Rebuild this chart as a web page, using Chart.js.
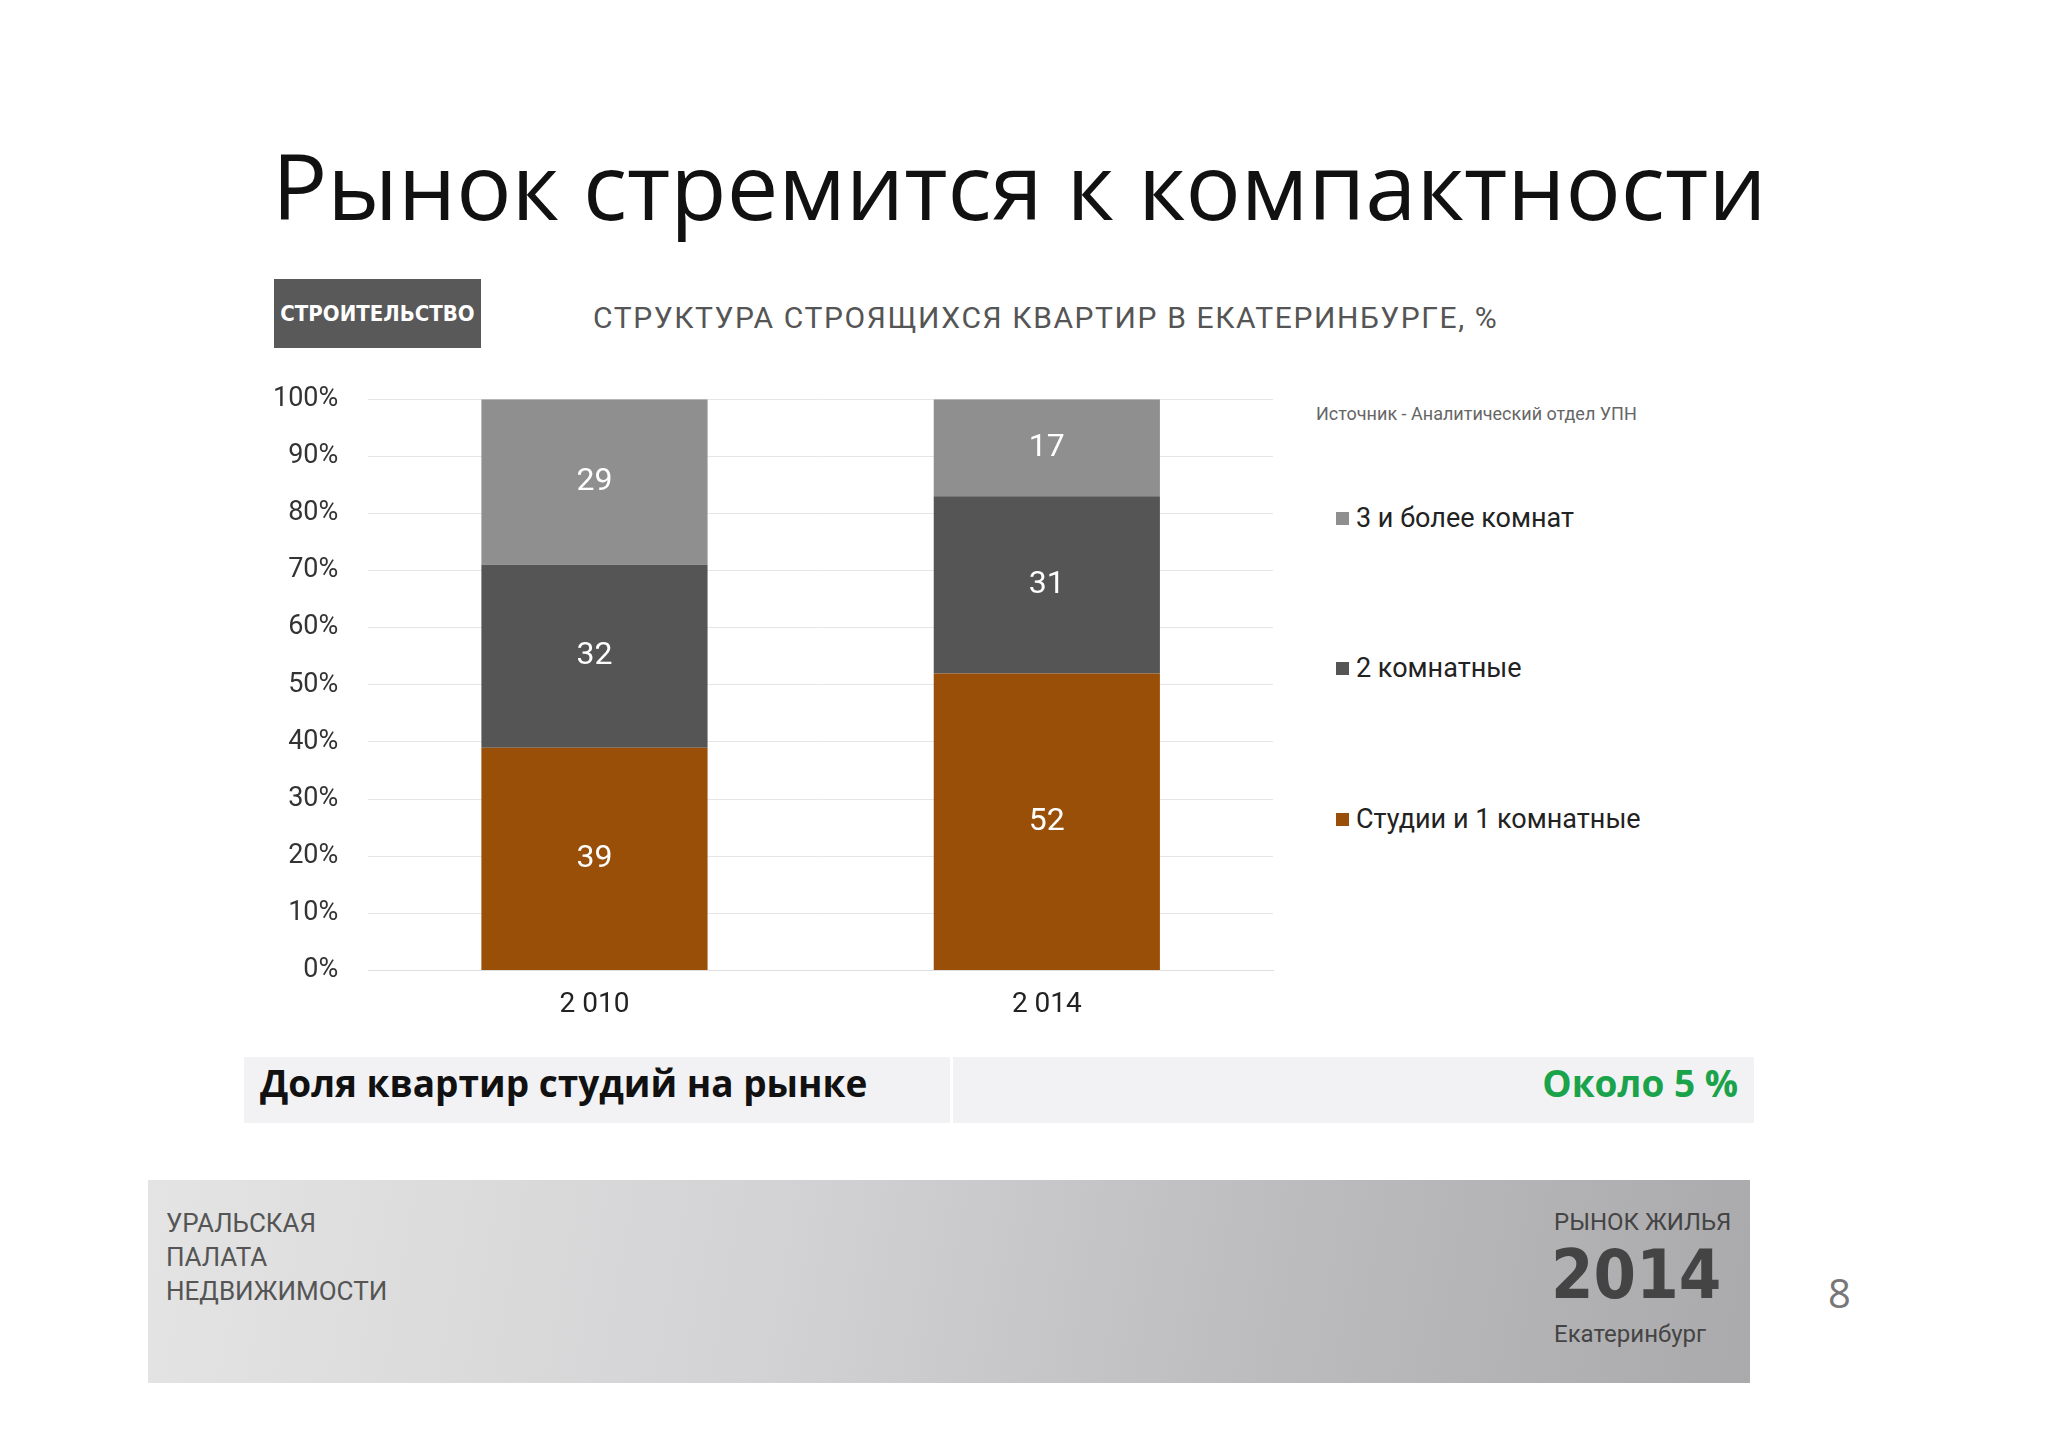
<!DOCTYPE html>
<html><head><meta charset="utf-8">
<script src="https://cdn.jsdelivr.net/npm/chart.js@4/dist/chart.umd.min.js"></script>
<style>
body{margin:0;width:2048px;height:1447px;background:#fff;font-family:"Open Sans",sans-serif;position:relative;overflow:hidden}
.abs{position:absolute}
#title{left:272px;top:122px;font-size:92px;color:#111;white-space:nowrap}
#tag{left:274px;top:279px;width:207px;height:69px;background:#595959;color:#fff;font:bold 22px "DejaVu Sans Condensed","DejaVu Sans";display:flex;align-items:center;justify-content:center}
#sub{left:593px;top:300px;font:30px "Roboto";color:#555;letter-spacing:1.6px}
#src{left:1316px;top:403px;font:18px "Roboto";color:#666}
.leg{font:27px "Roboto";color:#222;left:1336px}
.leg span{display:inline-block;width:13px;height:13px;margin-right:7px;vertical-align:2px}
#row{left:244px;top:1057px;width:1510px;height:66px;background:#f2f2f4}
#row div{position:absolute;top:0;height:66px;line-height:66px}
#foot{left:148px;top:1180px;width:1602px;height:203px;background:linear-gradient(100deg,#e4e4e4 0%,#d2d2d4 40%,#bcbcbe 70%,#aaaaac 100%)}
</style></head><body>
<div id="title" class="abs">Рынок стремится к компактности</div>
<div id="tag" class="abs">СТРОИТЕЛЬСТВО</div>
<div id="sub" class="abs">СТРУКТУРА СТРОЯЩИХСЯ КВАРТИР В ЕКАТЕРИНБУРГЕ, %</div>
<div id="src" class="abs">Источник - Аналитический отдел УПН</div>
<div id="legend"></div>
<div class="abs" style="left:243px;top:353px"><canvas id="c" width="1060" height="679"></canvas></div>
<div id="row" class="abs">
  <div style="left:16px;font:bold 37px 'Open Sans';color:#111">Доля квартир студий на рынке</div>
  <div style="left:706px;width:3px;background:#fff"></div>
  <div style="right:16px;font:bold 37px 'Open Sans';color:#1aa34a">Около 5 %</div>
</div>
<div id="foot" class="abs">
  <div class="abs" style="left:18px;top:26px;font:26px 'Liberation Sans Narrow','Roboto';color:#555;line-height:34px">УРАЛЬСКАЯ<br>ПАЛАТА<br>НЕДВИЖИМОСТИ</div>
  <div class="abs" style="left:1406px;top:28px;font:24px 'Liberation Sans Narrow','Roboto';color:#444">РЫНОК ЖИЛЬЯ</div>
  <div class="abs" style="left:1403px;top:55px;font:bold 68px 'DejaVu Sans Condensed';color:#444;line-height:80px">2014</div>
  <div class="abs" style="left:1406px;top:140px;font:24px 'Roboto';color:#444">Екатеринбург</div>
</div>
<div class="abs" style="left:1828px;top:1265px;font:40px 'Open Sans';color:#777">8</div>
<script>
const years = ["2 010", "2 014"];
const studio = [39, 52];
const twoRoom = [32, 31];
const threePlus = [29, 17];
const seriesNames = ["Студии и 1 комнатные", "2 комнатные", "3 и более комнат"];
const colors = ["#9a4f08", "#555555", "#8f8f8f"];

// legend, top item = last series
const legendTops = [821, 670, 520];
seriesNames.forEach((n, i) => {
    let d = document.createElement("div");
    d.className = "abs leg";
    d.style.top = (legendTops[i] - 18) + "px";
    d.innerHTML = `<span style="background:${colors[i]}"></span>${n}`;
    document.getElementById("legend").appendChild(d);
});

const barLabels = {
    id: "barLabels",
    afterDatasetsDraw(chart) {
        let ctx = chart.ctx;
        ctx.save();
        ctx.fillStyle = "#fff";
        ctx.font = "32px Roboto";
        ctx.textAlign = "center";
        ctx.textBaseline = "middle";
        chart.data.datasets.forEach((ds, i) => {
            chart.getDatasetMeta(i).data.forEach((bar, j) => {
                ctx.fillText(ds.data[j], bar.x, (bar.y + bar.base) / 2);
            });
        });
        ctx.restore();
    }
};

new Chart(document.getElementById("c"), {
    type: "bar",
    data: {
        labels: years,
        datasets: [studio, twoRoom, threePlus].map((d, i) => ({
            label: seriesNames[i], data: d, backgroundColor: colors[i],
            categoryPercentage: 0.5, barPercentage: 1
        }))
    },
    options: {
        responsive: false, animation: false,
        layout: { padding: { top: 20, right: 30 } },
        plugins: { legend: { display: false }, tooltip: { enabled: false } },
        scales: {
            x: { stacked: true, grid: { display: false }, border: { color: "#ddd" },
                 ticks: { color: "#222", font: { size: 28, family: "Roboto" }, padding: 10 } },
            y: { stacked: true, min: 0, max: 100, border: { display: false },
                 grid: { color: "#e6e6e6", drawTicks: false },
                 ticks: { stepSize: 10, callback: v => v + "%", color: "#333", padding: 30,
                          font: { size: 27, family: "Roboto" } } }
        }
    },
    plugins: [barLabels]
});
</script>
</body></html>
